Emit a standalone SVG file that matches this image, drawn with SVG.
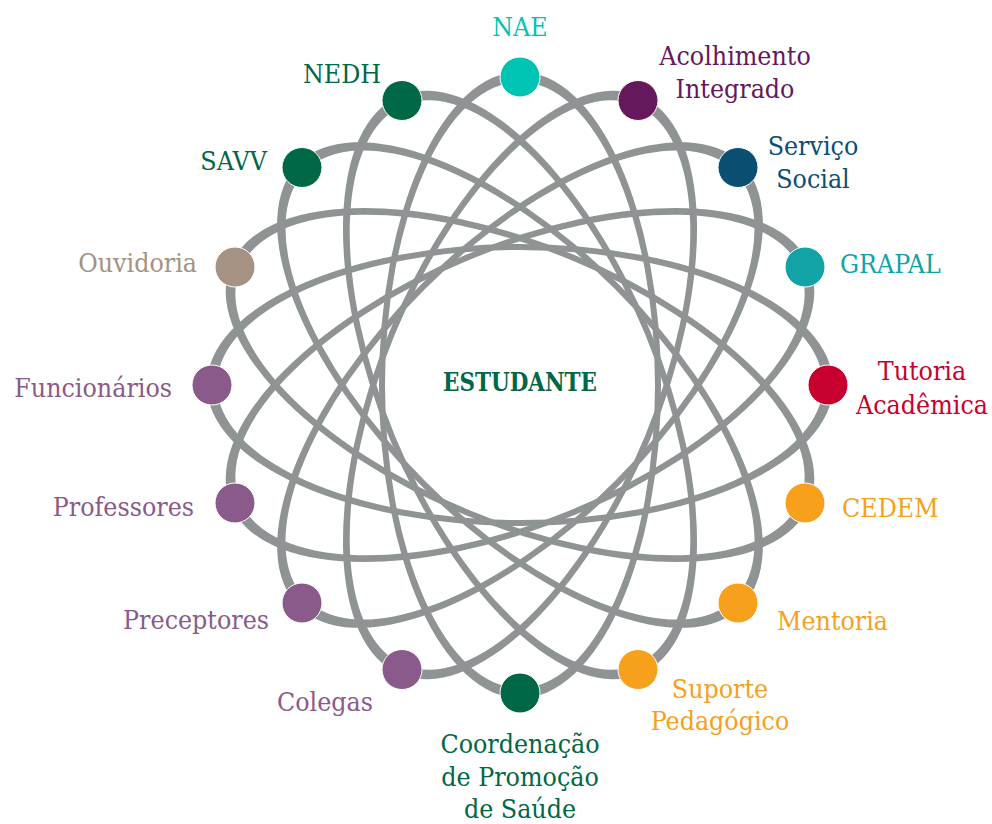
<svg xmlns="http://www.w3.org/2000/svg" xmlns:xlink="http://www.w3.org/1999/xlink" width="992" height="824" viewBox="0 0 992 824">
<style>
.orb{fill:#8f9393;fill-rule:evenodd}
.node{stroke:#ffffff;stroke-width:1}
text{font-family:'DejaVu Serif Condensed','DejaVu Serif',serif;font-stretch:condensed;font-size:26.5px}
.c{text-anchor:middle}.r{text-anchor:end}
.teal{fill:#00c4b3}.plum{fill:#65185c}.navy{fill:#0a4e72}.cyan{fill:#12a3a6}.red{fill:#c8002f}.orange{fill:#f7a01c}.green{fill:#006747}.purple{fill:#8a5a8a}.taupe{fill:#a59282}
</style>
<defs>
<path id="orbit" d="M379,385a141,313 0 1,0 282,0a141,313 0 1,0 -282,0Z M385,385a135,303 0 1,0 270,0a135,303 0 1,0 -270,0Z"/>
</defs>
<rect width="992" height="824" fill="#ffffff"/>
<g id="connectors" class="orb">
<use xlink:href="#orbit"/>
<use xlink:href="#orbit" transform="rotate(22.5 520 385)"/>
<use xlink:href="#orbit" transform="rotate(45 520 385)"/>
<use xlink:href="#orbit" transform="rotate(67.5 520 385)"/>
<use xlink:href="#orbit" transform="rotate(90 520 385)"/>
<use xlink:href="#orbit" transform="rotate(112.5 520 385)"/>
<use xlink:href="#orbit" transform="rotate(135 520 385)"/>
<use xlink:href="#orbit" transform="rotate(157.5 520 385)"/>
</g>
<g id="estudante"><text class="c green" x="520" y="391" font-weight="bold" font-size="24" textLength="154" lengthAdjust="spacingAndGlyphs">ESTUDANTE</text></g>
<g id="nae"><circle class="node teal" cx="520" cy="77" r="20"/><text class="c teal" x="520" y="36">NAE</text></g>
<g id="acolhimento"><circle class="node plum" cx="638" cy="100.5" r="20"/><text class="c plum" x="735" y="65">Acolhimento</text><text class="c plum" x="735" y="98">Integrado</text></g>
<g id="servico-social"><circle class="node navy" cx="738" cy="167.5" r="20"/><text class="c navy" x="813" y="155">Serviço</text><text class="c navy" x="813" y="188">Social</text></g>
<g id="grapal"><circle class="node cyan" cx="805" cy="267" r="20"/><text class="cyan" x="840" y="273">GRAPAL</text></g>
<g id="tutoria"><circle class="node red" cx="828" cy="385" r="20"/><text class="c red" x="922" y="380">Tutoria</text><text class="c red" x="922" y="414">Acadêmica</text></g>
<g id="cedem"><circle class="node orange" cx="805" cy="503" r="20"/><text class="orange" x="842" y="517">CEDEM</text></g>
<g id="mentoria"><circle class="node orange" cx="738" cy="603" r="20"/><text class="orange" x="777" y="630">Mentoria</text></g>
<g id="suporte"><circle class="node orange" cx="638" cy="669.5" r="20"/><text class="c orange" x="720" y="698">Suporte</text><text class="c orange" x="720" y="730">Pedagógico</text></g>
<g id="coordenacao"><circle class="node green" cx="520" cy="693" r="20"/><text class="c green" x="520" y="753">Coordenação</text><text class="c green" x="520" y="786">de Promoção</text><text class="c green" x="520" y="818">de Saúde</text></g>
<g id="colegas"><circle class="node purple" cx="402" cy="669.5" r="20"/><text class="r purple" x="373" y="711">Colegas</text></g>
<g id="preceptores"><circle class="node purple" cx="302" cy="603" r="20"/><text class="r purple" x="269" y="629">Preceptores</text></g>
<g id="professores"><circle class="node purple" cx="235" cy="503" r="20"/><text class="r purple" x="194" y="516">Professores</text></g>
<g id="funcionarios"><circle class="node purple" cx="212" cy="385" r="20"/><text class="r purple" x="172" y="397">Funcionários</text></g>
<g id="ouvidoria"><circle class="node taupe" cx="235" cy="267" r="20"/><text class="r taupe" x="197" y="272">Ouvidoria</text></g>
<g id="savv"><circle class="node green" cx="302" cy="167.5" r="20"/><text class="r green" x="267" y="170">SAVV</text></g>
<g id="nedh"><circle class="node green" cx="402" cy="100.5" r="20"/><text class="c green" x="342" y="83">NEDH</text></g>
</svg>
